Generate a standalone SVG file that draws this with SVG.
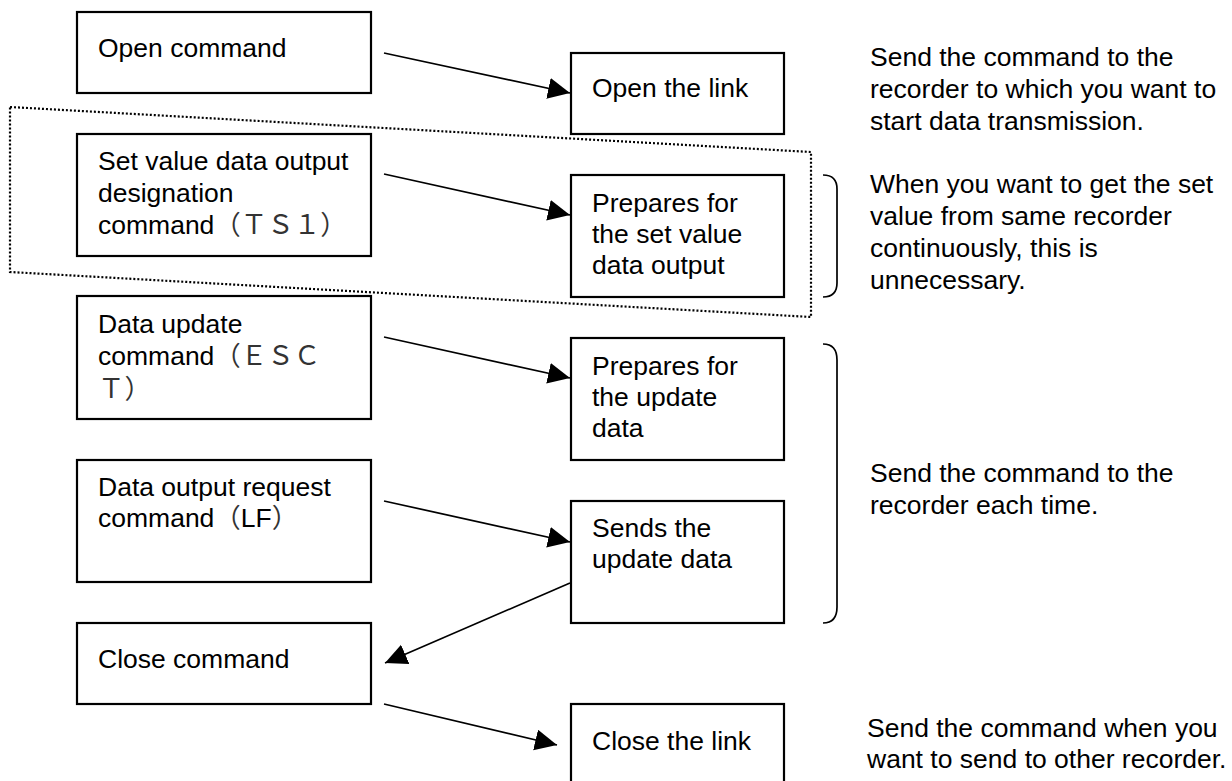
<svg xmlns="http://www.w3.org/2000/svg" width="1232" height="781" viewBox="0 0 1232 781">
<style>
.box{fill:#fff;stroke:#000;stroke-width:2.2}
.t{font-family:"Liberation Sans","Noto Sans CJK JP",Arial,sans-serif;font-size:26.5px;fill:#000}
.fw{fill:#333}
.conn{stroke:#000;stroke-width:1.7;fill:none}
.brk{stroke:#000;stroke-width:1.7;fill:none}
.dot{stroke:#000;stroke-width:2.2;fill:none;stroke-dasharray:2 2}
</style>
<defs>
<marker id="ah" markerUnits="userSpaceOnUse" markerWidth="23" markerHeight="22" refX="22" refY="10.5" orient="auto">
<path d="M0,0 L22,10.5 L0,21 z" fill="#000"/>
</marker>
</defs>
<rect width="1232" height="781" fill="#fff"/>

<polygon id="optional-region" class="dot" points="10,107 811,152 811,317 10,272"/>

<g id="open-command"><rect class="box" x="77" y="12" width="294" height="81"/>
<text class="t" x="98" y="57">Open command</text></g>

<g id="set-value-command"><rect class="box" x="77" y="134" width="294" height="122"/>
<text class="t" x="98" y="170"><tspan x="98">Set value data output</tspan><tspan x="98" dy="32">designation</tspan><tspan x="98" dy="32">command<tspan class="fw">（ＴＳ１）</tspan></tspan></text></g>

<g id="data-update-command"><rect class="box" x="77" y="296" width="294" height="123"/>
<text class="t" x="98" y="333"><tspan x="98">Data update</tspan><tspan x="98" dy="32">command<tspan class="fw">（ＥＳＣ</tspan></tspan><tspan x="98" dy="33" class="fw">Ｔ）</tspan></text></g>

<g id="data-output-command"><rect class="box" x="77" y="460" width="294" height="122"/>
<text class="t" x="98" y="496"><tspan x="98">Data output request</tspan><tspan x="98" dy="31">command<tspan class="fw">（</tspan>LF<tspan class="fw">）</tspan></tspan></text></g>

<g id="close-command"><rect class="box" x="77" y="623" width="294" height="81"/>
<text class="t" x="98" y="668">Close command</text></g>

<g id="open-link"><rect class="box" x="571" y="53" width="213" height="81"/>
<text class="t" x="592" y="97">Open the link</text></g>

<g id="prepare-set-value"><rect class="box" x="571" y="175" width="213" height="122"/>
<text class="t" x="592" y="212"><tspan x="592">Prepares for</tspan><tspan x="592" dy="31">the set value</tspan><tspan x="592" dy="31">data output</tspan></text></g>

<g id="prepare-update"><rect class="box" x="571" y="338" width="213" height="122"/>
<text class="t" x="592" y="375"><tspan x="592">Prepares for</tspan><tspan x="592" dy="31">the update</tspan><tspan x="592" dy="31">data</tspan></text></g>

<g id="send-update"><rect class="box" x="571" y="501" width="213" height="122"/>
<text class="t" x="592" y="537"><tspan x="592">Sends the</tspan><tspan x="592" dy="31">update data</tspan></text></g>

<g id="close-link"><rect class="box" x="571" y="704" width="213" height="82"/>
<text class="t" x="592" y="750">Close the link</text></g>

<g id="connectors">
<line class="conn" x1="384" y1="53" x2="570" y2="93" marker-end="url(#ah)"/>
<line class="conn" x1="384" y1="174" x2="570" y2="215" marker-end="url(#ah)"/>
<line class="conn" x1="384" y1="337" x2="570" y2="378" marker-end="url(#ah)"/>
<line class="conn" x1="384" y1="501" x2="570" y2="542" marker-end="url(#ah)"/>
<line class="conn" x1="570" y1="583" x2="385" y2="663" marker-end="url(#ah)"/>
<line class="conn" x1="384" y1="704" x2="557" y2="745" marker-end="url(#ah)"/>
</g>

<g id="brackets">
<path class="brk" d="M823,175 Q837,175 837,189 L837,283 Q837,297 823,297"/>
<path class="brk" d="M823,344 Q837,344 837,360 L837,607 Q837,623 823,623"/>
</g>

<g id="notes">
<text class="t" x="870" y="66"><tspan x="870">Send the command to the</tspan><tspan x="870" dy="32">recorder to which you want to</tspan><tspan x="870" dy="32">start data transmission.</tspan></text>
<text class="t" x="870" y="193"><tspan x="870">When you want to get the set</tspan><tspan x="870" dy="32">value from same recorder</tspan><tspan x="870" dy="32">continuously, this is</tspan><tspan x="870" dy="32">unnecessary.</tspan></text>
<text class="t" x="870" y="482"><tspan x="870">Send the command to the</tspan><tspan x="870" dy="32">recorder each time.</tspan></text>
<text class="t" x="867" y="737"><tspan x="867">Send the command when you</tspan><tspan x="867" dy="31">want to send to other recorder.</tspan></text>
</g>
</svg>
